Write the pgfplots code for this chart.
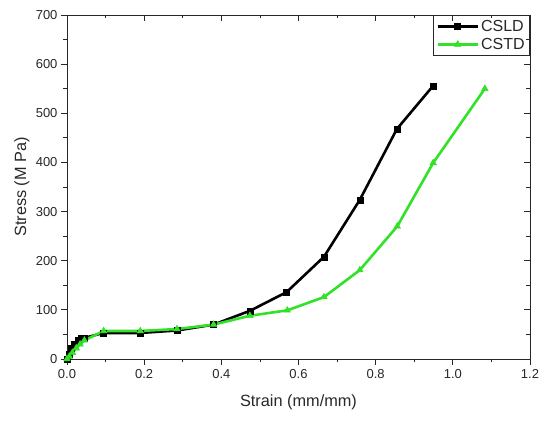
\documentclass[border=0pt]{standalone}
\usepackage{fontspec}
\setmainfont{Liberation Sans}
\usepackage{pgfplots}
\pgfplotsset{compat=1.18}
\definecolor{cgreen}{RGB}{50,225,40}
\definecolor{axgray}{RGB}{40,40,40}
\begin{document}
\begin{tikzpicture}
\path[use as bounding box] (-67pt,-64pt) rectangle (483pt,359pt);
\begin{axis}[
  at={(0pt,0pt)}, anchor=south west,
  scale only axis, width=463pt, height=344pt,
  xmin=0, xmax=1.2, ymin=0, ymax=700,
  xtick={0,0.2,...,1.2}, ytick={0,100,...,700},
  minor xtick={0.1,0.3,...,1.1}, minor ytick={50,150,...,650},
  axis x line*=bottom, axis y line*=left,
  tick align=outside,
  major tick length=6pt, minor tick length=3.5pt,
  every tick/.style={axgray, line width=0.8pt},
  axis line style={axgray, line width=0.9pt},
  /pgf/number format/assume math mode=true,
  xticklabel={\pgfmathprintnumber[fixed,fixed zerofill,precision=1]{\tick}},
  yticklabel={\pgfmathprintnumber[fixed,precision=0]{\tick}},
  ticklabel style={font=\fontsize{13}{15}\selectfont, text=axgray},
  xticklabel style={yshift=-1pt},
  xlabel={Strain (mm/mm)}, ylabel={Stress (M Pa)},
  label style={font=\fontsize{16.3}{19}\selectfont, text=axgray},
  xlabel style={at={(0.5,0)}, anchor=center, yshift=-43pt},
  ylabel style={at={(0,0.5)}, anchor=center, yshift=45pt},
  legend style={at={(1,1)}, anchor=north east, draw=axgray, line width=0.8pt,
    font=\fontsize{16}{18}\selectfont, inner xsep=3pt, inner ysep=3pt, row sep=1pt,
    legend cell align=left, text=axgray},
  legend image code/.code={\draw[mark repeat=2,mark phase=2] plot coordinates {(0pt,0pt) (20pt,0pt) (40pt,0pt)};},
  clip=false,
]
\addplot[black, line width=2.6pt, mark=square*, mark size=3pt, mark options={line width=0.5pt}] coordinates {
(0,0) (0.005,10) (0.012,22) (0.02,30) (0.028,38) (0.036,42) (0.045,43)
(0.095,53) (0.19,53) (0.285,58) (0.38,70) (0.474,98) (0.569,136)
(0.666,208) (0.759,324) (0.855,468) (0.949,556)};
\addlegendentry{CSLD}
\addplot[cgreen, line width=2.6pt, mark=triangle*, mark size=3.8pt, mark options={line width=0.5pt}] coordinates {
(0,0) (0.006,5) (0.014,13) (0.024,22) (0.034,30) (0.045,38)
(0.095,57) (0.19,57) (0.285,61) (0.38,70) (0.474,88) (0.571,99)
(0.666,126) (0.759,181) (0.856,270) (0.949,399) (1.083,550)};
\addlegendentry{CSTD}
\end{axis}
\begin{axis}[
  at={(0pt,0pt)}, anchor=south west,
  scale only axis, width=463pt, height=344pt,
  xmin=0, xmax=1.2, ymin=0, ymax=700,
  xtick={0,0.2,...,1.2}, ytick={0,100,...,700},
  minor xtick={0.1,0.3,...,1.1}, minor ytick={50,150,...,650},
  axis x line*=top, axis y line*=right,
  tick align=inside,
  major tick length=6pt, minor tick length=3.5pt,
  every tick/.style={axgray, line width=0.8pt},
  axis line style={axgray, line width=0.9pt},
  xticklabels={}, yticklabels={},
]
\end{axis}
\end{tikzpicture}
\end{document}
